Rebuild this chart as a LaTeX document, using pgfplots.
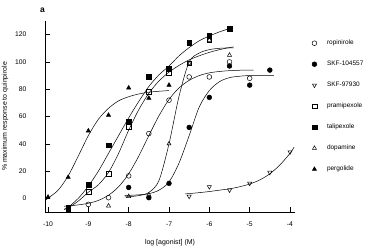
\documentclass[border=0pt]{standalone}
\usepackage{fontspec}
\setmainfont{Liberation Sans}
\usepackage{pgfplots}
\pgfplotsset{compat=1.18}
\begin{document}
\begin{tikzpicture}
\useasboundingbox (-45bp,-39bp) rectangle (332bp,212bp);
\begin{axis}[
 at={(0,0)}, anchor=south west,
 scale only axis, width=250bp, height=191bp,
 xmin=-10.075, xmax=-3.876, ymin=-10, ymax=130,
 axis x line*=bottom, axis y line*=left,
 axis line style={line width=0.5bp, black},
 xtick={-10,-9,-8,-7,-6,-5,-4}, ytick={0,20,40,60,80,100,120},
 tick align=inside, major tick length=5bp,
 tick style={line width=0.5bp, black},
 /pgf/number format/assume math mode=true,
 ticklabel style={font=\fontsize{6.8}{7.5}\selectfont},
 yticklabel style={xshift=-15bp},
 xticklabel style={yshift=-6bp},
 xlabel={log [agonist] (M)},
 ylabel={\% maximum response to quinpirole},
 every axis x label/.style={at={(axis description cs:0.5,-0.162)}, anchor=center, font=\fontsize{7}{8}\selectfont},
 every axis y label/.style={at={(axis description cs:-0.16,0.5)}, rotate=90, anchor=center, font=\fontsize{7}{8}\selectfont},
 legend style={draw=none, fill=none, inner sep=0pt, at={(axis description cs:1.059,0.907)}, anchor=north west,
   font=\fontsize{6.5}{7}\selectfont, row sep=12.5bp,
   nodes={inner sep=1bp, text height=5bp, text depth=1.5bp}},
 legend image code/.code={\path (0cm,0cm) (0.55cm,0cm); \draw[#1] plot coordinates {(0.15cm,0cm)};},
 legend cell align=left,
 clip=false,
 mark size=2.4bp,
 every axis plot/.append style={line width=0.5bp, black},
]
% ---- data points ----
\addplot[only marks, mark=o, mark options={fill=white}] coordinates {
 (-9,-4.4) (-8.5,0.5) (-8,16.5) (-7.5,47.5) (-7,72) (-6.5,89) (-6,89) (-5.5,100) (-5,88)};
\addlegendentry{ropinirole}
\addplot[only marks, mark=*, mark options={fill=black}] coordinates {
 (-8,8) (-7.5,0.5) (-7,11) (-6.5,52) (-6,74) (-5.5,97) (-5,83) (-4.5,94)};
\addlegendentry{SKF-104557}
\addplot[only marks, mark=triangle, mark options={fill=white, rotate=180}] coordinates {
 (-6.5,1.5) (-6,8.5) (-5.5,6) (-5,11) (-4.5,19) (-4,34)};
\addlegendentry{SKF-97930}
\addplot[only marks, mark=square, mark options={fill=white}] coordinates {
 (-9.5,-7) (-9,5) (-8.5,18) (-8,52.5) (-7.5,78) (-7,92) (-6.5,99) (-6,116.5)};
\addlegendentry{pramipexole}
\addplot[only marks, mark=square*, mark options={fill=black}] coordinates {
 (-9.5,-7.5) (-9,10) (-8.5,39) (-8,56.5) (-7.5,89) (-7,95) (-6.5,114) (-6,119) (-5.5,124.5)};
\addlegendentry{talipexole}
\addplot[only marks, mark=triangle, mark options={fill=white}] coordinates {
 (-8.5,-5.5) (-8,1.5) (-7.5,2.5) (-7,40) (-6.5,99) (-6,116) (-5.5,105)};
\addlegendentry{dopamine}
\addplot[only marks, mark=triangle*, mark options={fill=black}] coordinates {
 (-10,1) (-9.5,15.5) (-9,49.5) (-8.5,61) (-8,81) (-7.5,73.5) (-7,83)};
\addlegendentry{pergolide}
% ---- fitted curves ----
\addplot[no marks, smooth, forget plot] coordinates {
 (-9.6,-5.8) (-9.5,-5.5) (-9.25,-4.8) (-9,-3.6) (-8.75,-1.5) (-8.5,2.3) (-8.25,8.5) (-8,18) (-7.75,31) (-7.5,46) (-7.25,60.5) (-7,72.5) (-6.75,81) (-6.5,86.5) (-6.25,90) (-6,92) (-5.75,93) (-5.5,93.6) (-5.25,93.9) (-4.9,94)};
\addplot[no marks, smooth, forget plot] coordinates {
 (-8.1,2.2) (-8,2.2) (-7.75,2.6) (-7.5,3.4) (-7.25,6) (-7,12) (-6.75,26) (-6.5,46) (-6.25,67) (-6,79) (-5.75,85.5) (-5.5,88.5) (-5.25,89.5) (-5,90) (-4.4,90)};
\addplot[no marks, smooth, forget plot] coordinates {
 (-6.6,3.3) (-6.5,3.5) (-6.25,4.2) (-6,5) (-5.75,6) (-5.5,7) (-5.25,8.5) (-5,10.5) (-4.75,13.5) (-4.5,18) (-4.25,24.5) (-4,33) (-3.9,37.5)};
\addplot[no marks, smooth, forget plot] coordinates {
 (-9.6,-8) (-9.5,-7) (-9.25,-2) (-9,4.5) (-8.75,10) (-8.5,19) (-8.25,33) (-8,50) (-7.75,65) (-7.5,77) (-7.25,86) (-7,92.5) (-6.75,97.5) (-6.5,101.5) (-6.25,104.5) (-6,107) (-5.75,109) (-5.5,110.5) (-5.4,111)};
\addplot[no marks, smooth, forget plot] coordinates {
 (-9.6,-8) (-9.5,-6.5) (-9.25,0) (-9,9) (-8.75,20) (-8.5,33) (-8.25,46) (-8,59) (-7.75,71) (-7.5,82) (-7.25,90.5) (-7,97) (-6.75,104.5) (-6.5,110.5) (-6.25,115.5) (-6,119) (-5.75,122) (-5.5,124.5)};
\addplot[no marks, smooth, forget plot] coordinates {
 (-8.1,1.1) (-8,1.2) (-7.75,2) (-7.5,4.3) (-7.25,13) (-7,40) (-6.75,75) (-6.5,100) (-6.25,106.5) (-6,109) (-5.75,110) (-5.5,110.3) (-5.4,110.3)};
\addplot[no marks, smooth, forget plot] coordinates {
 (-10.05,-1) (-9.75,6) (-9.5,16.5) (-9.25,31) (-9,46) (-8.75,58) (-8.5,66) (-8.25,71.5) (-8,74.5) (-7.75,76.5) (-7.5,77.8) (-7.25,78.5) (-7,79)};
\node[font=\bfseries\fontsize{8.5}{9}\selectfont] at (axis description cs:-0.01,1.058) {a};
\end{axis}
\end{tikzpicture}
\end{document}
